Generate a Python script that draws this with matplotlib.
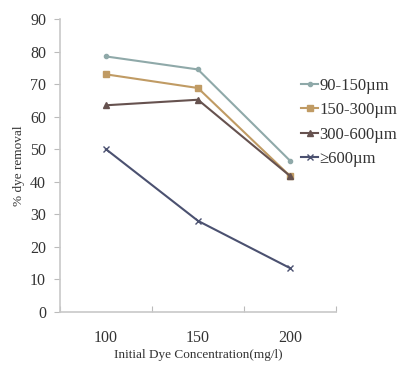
import numpy as np
import matplotlib.pyplot as plt

plt.rcParams['font.family'] = ['Liberation Serif', 'DejaVu Serif']

concentrations = ["100", "150", "200"]
size_labels = ["90-150\u00b5m", "150-300\u00b5m", "300-600\u00b5m", "\u2265600\u00b5m"]
removal_90_150 = [78.5, 74.5, 46.5]
removal_150_300 = [73.0, 68.8, 41.8]
removal_300_600 = [63.5, 65.2, 41.8]
removal_600 = [50.0, 28.0, 13.5]

series = [removal_90_150, removal_150_300, removal_300_600, removal_600]
colors = ["#8fa9a9", "#c09b64", "#66524f", "#4b5170"]
markers = ["o", "s", "^", "x"]
msizes = [3, 4, 4, 4]

fig = plt.figure(figsize=(4.04, 3.69), dpi=100)
ax = fig.add_axes([0.1485, 0.1545, 0.683, 0.794])

x = np.arange(len(concentrations))
for vals, lab, c, m, ms in zip(series, size_labels, colors, markers, msizes):
    ax.plot(x, vals, color=c, marker=m, markersize=ms, linewidth=1.5,
            label=lab, markeredgewidth=1)

ax.set_xlim(-0.5, 2.5)
ax.set_ylim(0, 90)
ax.set_yticks(np.arange(0, 91, 10))
# category boundaries get the tick marks, category centres get the labels
ax.set_xticks([-0.5, 0.5, 1.5, 2.5])
ax.set_xticklabels([])
ax.set_xticks(x, minor=True)
ax.set_xticklabels(concentrations, minor=True)
ax.tick_params(axis='x', which='minor', length=0, pad=13, labelsize=11.5, colors='#333333')
ax.tick_params(axis='x', which='major', length=4, color='#bbbbbb', direction='in')
ax.tick_params(axis='y', length=4, color='#bbbbbb', labelsize=11.5, colors='#333333', pad=6)

for side in ['top', 'right']:
    ax.spines[side].set_visible(False)
for side in ['left', 'bottom']:
    ax.spines[side].set_color('#c8c8c8')
    ax.spines[side].set_linewidth(1.2)

ax.set_xlabel("Initial Dye Concentration(mg/l)", fontsize=9.5, color='#333333', labelpad=2)
ax.set_ylabel("% dye removal", fontsize=9.5, color='#333333', labelpad=4)

leg = ax.legend(loc='upper left', bbox_to_anchor=(0.82, 0.85), frameon=False,
                fontsize=12, handlelength=1.0, handletextpad=0.1, labelspacing=0.5,
                labelcolor='#333333')

fig.savefig("out.png", dpi=100)
